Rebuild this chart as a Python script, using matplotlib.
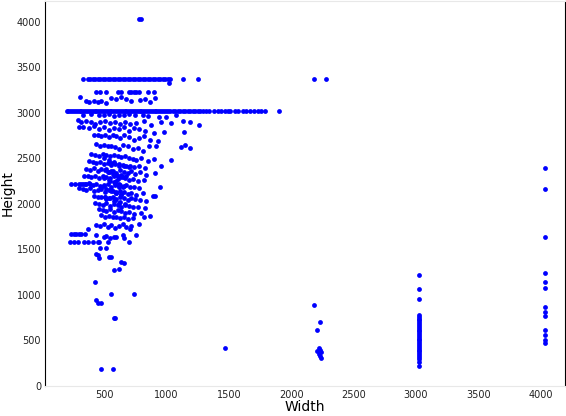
import matplotlib
matplotlib.use("Agg")
import matplotlib.pyplot as plt

# widths of images at common heights
band_3024_w = [200, 215, 230, 245, 260, 275, 290, 305, 320, 335, 350, 365, 380, 395, 410, 425, 440, 455, 470,
               485, 500, 515, 530, 545, 560, 575, 590, 605, 620, 635, 650, 665, 680, 695, 710, 725, 740, 755,
               770, 785, 800, 815, 830, 845, 860, 875, 890, 905, 920, 935, 950, 965, 980, 995, 1010, 1030,
               1050, 1070, 1090, 1110, 1130, 1150, 1170, 1190, 1210, 1230, 1250, 1270, 1290, 1320, 1340,
               1380, 1410, 1440, 1470, 1490, 1510, 1550, 1570, 1610, 1640, 1670, 1700, 1730, 1760, 1790, 1900]
band_3370_w = [330, 370, 390, 410, 430, 450, 470, 490, 510, 530, 550, 570, 590, 610, 630, 650, 670, 690,
               710, 730, 750, 770, 790, 810, 830, 850, 870, 890, 910, 930, 950, 970, 990, 1010, 1030,
               1130, 1250, 2180, 2280]
band_3230_w = [440, 470, 520, 610, 640, 700, 720, 740, 760, 780, 850, 900]
band_2220_w = [240, 270, 300, 330, 360, 390]
band_1670_w = [240, 260, 280, 300, 320, 350]
band_1580_w = [230, 260, 290, 340, 370, 410, 450]

# upper scattered group (width, height)
upper_pts = [
 (780, 4030), (800, 4030), (310, 3170), (360, 3130), (380, 3120), (420, 3130), (450, 3120), (480, 3130),
 (520, 3110), (560, 3160), (600, 3150), (640, 3170), (680, 3150), (720, 3130), (790, 3140), (830, 3150),
 (870, 3120), (910, 3160), (1020, 3330),
 (330, 2980), (400, 2990), (460, 2970), (500, 2980), (540, 2990), (580, 2960), (620, 2970), (660, 2980),
 (700, 2990), (750, 2970), (810, 2980), (850, 2960), (940, 2950), (1000, 2950), (1080, 2980),
 (290, 2920), (320, 2900), (360, 2910), (400, 2900), (430, 2880), (470, 2900), (510, 2910), (550, 2890),
 (590, 2900), (630, 2880), (670, 2900), (710, 2880), (760, 2890), (820, 2910), (880, 2870), (960, 2900),
 (1040, 2890), (1130, 2910), (1190, 2900), (1260, 2860),
 (300, 2840), (330, 2840), (380, 2830), (420, 2850), (460, 2820), (500, 2840), (540, 2810), (580, 2830),
 (620, 2820), (660, 2840), (700, 2800), (740, 2830), (780, 2820), (830, 2800), (900, 2780), (980, 2790),
 (420, 2750), (450, 2760), (480, 2740), (510, 2750), (540, 2730), (570, 2760), (600, 2740), (630, 2720),
 (660, 2750), (700, 2730), (740, 2700), (780, 2720), (820, 2740), (870, 2700), (930, 2690), (1140, 2790),
 (1120, 2620), (1150, 2650), (1190, 2610),
 (440, 2660), (470, 2640), (500, 2650), (530, 2630), (560, 2640), (590, 2620), (620, 2600), (650, 2650),
 (690, 2630), (730, 2600), (770, 2610), (810, 2580), (860, 2640), (920, 2640), (1040, 2480), (960, 2420),
]

# main dense cluster (width, height)
cluster_pts = [
 (400, 2550), (430, 2540), (460, 2530), (490, 2550), (520, 2540), (550, 2520), (580, 2540), (610, 2530),
 (640, 2510), (670, 2520), (700, 2500), (730, 2490), (760, 2480), (800, 2500), (850, 2470), (900, 2490),
 (380, 2470), (410, 2460), (440, 2450), (470, 2460), (500, 2440), (530, 2450), (560, 2430), (590, 2440),
 (620, 2420), (650, 2430), (680, 2410), (710, 2420), (740, 2400), (780, 2410), (830, 2390),
 (360, 2380), (390, 2370), (420, 2390), (450, 2360), (480, 2380), (510, 2370), (540, 2350), (570, 2360),
 (600, 2340), (630, 2370), (660, 2350), (690, 2340), (720, 2360), (750, 2330), (790, 2350), (840, 2320),
 (910, 2340),
 (340, 2300), (370, 2310), (400, 2290), (430, 2300), (460, 2280), (490, 2310), (520, 2290), (550, 2280),
 (580, 2300), (610, 2270), (640, 2290), (670, 2280), (700, 2260), (730, 2270), (770, 2250), (820, 2260),
 (320, 2220), (350, 2220), (380, 2230), (410, 2210), (440, 2220), (470, 2200), (500, 2210), (530, 2220),
 (560, 2190), (590, 2210), (620, 2200), (650, 2190), (680, 2210), (710, 2180), (740, 2190), (780, 2170),
 (950, 2190), (300, 2170), (330, 2160), (360, 2150), (390, 2170), (420, 2140), (450, 2150), (480, 2160),
 (510, 2130), (540, 2150), (570, 2140), (600, 2120), (630, 2140), (660, 2130), (690, 2110), (720, 2120),
 (760, 2100), (810, 2120), (890, 2090), (910, 2090),
 (420, 2090), (450, 2080), (480, 2070), (510, 2080), (540, 2060), (570, 2070), (600, 2050), (630, 2080),
 (660, 2060), (690, 2040), (720, 2060), (750, 2050), (790, 2040), (840, 2030),
 (430, 2010), (460, 2000), (490, 1990), (520, 2010), (550, 1980), (580, 2000), (610, 1990), (640, 1970),
 (670, 1990), (700, 1980), (730, 1960), (770, 1970), (830, 1950),
 (460, 1940), (490, 1930), (520, 1920), (550, 1940), (580, 1910), (610, 1930), (640, 1920), (670, 1900),
 (700, 1910), (740, 1890), (800, 1900), (870, 1870),
 (480, 1880), (510, 1860), (540, 1870), (570, 1850), (600, 1860), (630, 1840), (660, 1860), (690, 1830),
 (730, 1840), (780, 1780), (820, 1850),
 (440, 1770), (470, 1760), (500, 1780), (530, 1750), (560, 1770), (590, 1740), (620, 1760), (650, 1780),
 (680, 1750), (720, 1760), (760, 1660), (710, 1720),
 (440, 1660), (500, 1640), (520, 1650), (550, 1630), (600, 1640), (650, 1660), (660, 1620), (580, 1640),
 (530, 1580), (700, 1580), (470, 1510), (520, 1510), (540, 1420), (560, 1420), (450, 1440), (460, 1400),
 (660, 1350), (640, 1360), (580, 1270), (620, 1290), (440, 1450), (370, 1720), (460, 1580),
 (500, 2200), (540, 2350), (560, 2450), (580, 2330), (600, 2250), (620, 2180), (640, 2300),
 (500, 2500), (540, 2480), (580, 2460), (620, 2440), (660, 2420), (700, 2400), (520, 2380), (560, 2360),
 (600, 2320), (640, 2320), (680, 2300), (500, 2280), (540, 2260), (580, 2240), (620, 2220), (660, 2200),
 (480, 2180), (520, 2160), (560, 2140), (600, 2120), (640, 2100), (510, 2080), (550, 2060), (590, 2040),
 (630, 2020), (670, 2000), (530, 2350), (570, 2330), (610, 2310), (650, 2290), (550, 2250), (590, 2230),
 (630, 2210), (560, 2150), (600, 2130), (640, 2110), (520, 2050), (580, 2030), (620, 2010),
]

# sparse low points (width, height)
low_pts = [
 (430, 1140), (560, 1010), (740, 1010), (440, 940), (450, 910), (480, 910), (580, 750), (590, 750),
 (480, 190), (570, 190), (1470, 420),
 (2180, 890), (2230, 700), (2210, 610), (2220, 420), (2230, 400), (2210, 380), (2240, 370),
 (2220, 350), (2230, 330), (2240, 310),
]

# column at width 3024 (heights)
col_3024_h = [1220, 1060, 960, 780, 760, 740, 720, 700, 680, 660, 640, 620, 600, 580, 560, 540,
              520, 500, 480, 460, 440, 420, 400, 380, 360, 340, 320, 300, 260, 220]
# column at width 4032 (heights)
col_4032_h = [2390, 2160, 1640, 1240, 1140, 1080, 870, 810, 770, 620, 560, 510, 470]

fig = plt.figure(figsize=(5.66, 4.16), dpi=100)
ax = fig.add_axes([0.08, 0.072, 0.918, 0.926])
kw = dict(s=12, color="#0000ff", linewidths=0)
for widths, h in [(band_3024_w, 3024), (band_3370_w, 3370), (band_3230_w, 3230),
                  (band_2220_w, 2220), (band_1670_w, 1670), (band_1580_w, 1580)]:
    ax.scatter(widths, [h] * len(widths), **kw)
for group in [upper_pts, cluster_pts, low_pts]:
    ax.scatter([p[0] for p in group], [p[1] for p in group], **kw)
ax.scatter([3024] * len(col_3024_h), col_3024_h, **kw)
ax.scatter([4032] * len(col_4032_h), col_4032_h, **kw)

ax.set_xlim(30, 4192)
ax.set_ylim(0, 4228)
ax.set_xticks([500, 1000, 1500, 2000, 2500, 3000, 3500, 4000])
ax.set_yticks([0, 500, 1000, 1500, 2000, 2500, 3000, 3500, 4000])
ax.tick_params(labelsize=7, length=0, pad=3, colors="#222222")
ax.set_xlabel("Width", fontsize=10, labelpad=0)
ax.set_ylabel("Height", fontsize=10, labelpad=1)
for s in ["top", "bottom"]:
    ax.spines[s].set_color("#e8e8e8")
for s in ["left", "right"]:
    ax.spines[s].set_color("black")
fig.savefig("out.png", dpi=100)
